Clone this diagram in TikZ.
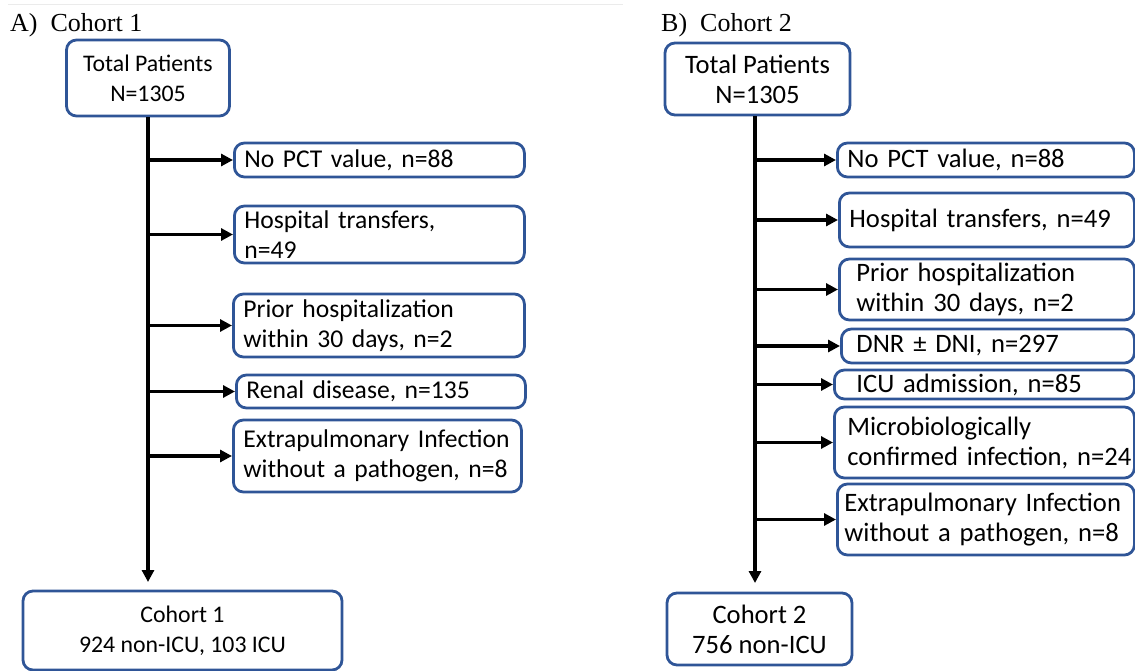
\documentclass[tikz,border=0pt]{standalone}
\usepackage{fontspec}
\setmainfont{Liberation Serif}
\newfontfamily\calib{Carlito}
\usetikzlibrary{arrows.meta}
\definecolor{boxblue}{RGB}{47,85,151}

\begin{document}
\begin{tikzpicture}[>={Triangle[length=12pt,width=12pt]}, x=1pt, y=-1pt]
	\tikzstyle{blk}=[draw=boxblue, line width=2.8pt, rounded corners=10pt, inner ysep=1pt]
	\tikzstyle{mid}=[blk, align=center]
	\tikzstyle{excl}=[blk, anchor=west, align=left, inner xsep=10pt]
	\tikzstyle{fa}=[font=\calib\fontsize{25.6}{30}\selectfont]
	\tikzstyle{fat}=[font=\calib\fontsize{23.8}{30}\selectfont]
	\tikzstyle{fb}=[font=\calib\fontsize{26.6}{30}\selectfont]
	\tikzstyle{head}=[anchor=base west, inner sep=0pt, font=\fontsize{26}{30}\selectfont]
	\tikzstyle{arr}=[->, line width=3.2pt]
	\useasboundingbox (0,0) rectangle (1135,671);
	\draw[black!8, line width=1pt] (8,5) -- (623,5);
	% A) cohort 1
	\node[head] (headA) at (10,32) {A)\ \ Cohort 1};
	\node[mid, fat, minimum width=163pt, minimum height=76pt] (totA) at (148,78) {Total Patients\\N=1305};
	\node[excl, fa, text width=270pt, minimum height=34pt] (pctA) at (233,160) {No PCT value, n=88};
	\node[excl, fa, text width=270pt, minimum height=57pt] (hospA) at (233,234.5) {Hospital transfers,\\n=49};
	\node[excl, fa, text width=271pt, minimum height=63pt] (priorA) at (232,325.5) {Prior hospitalization\\within 30 days, n=2};
	\node[excl, fa, text width=269pt, minimum height=33pt] (renalA) at (235,391.5) {Renal disease, n=135};
	\node[excl, fa, text width=268pt, minimum height=72pt] (extraA) at (232,456) {Extrapulmonary Infection\\without a pathogen, n=8};
	\node[mid, fat, minimum width=319pt, minimum height=79pt] (cohA) at (182.5,630.5) {Cohort 1\\924 non-ICU, 103 ICU};
	\coordinate (endA) at (148,582);
	\draw[arr] (totA.south) -- (endA);
	\foreach \b in {pctA,hospA,priorA,renalA,extraA}
		\draw[arr] (endA |- \b.west) -- (\b.west);
	% B) cohort 2
	\node[head] (headB) at (661,32) {B)\ \ Cohort 2};
	\node[mid, fb, minimum width=185pt, minimum height=72pt] (totB) at (757.5,79) {Total Patients\\N=1305};
	\node[excl, fb, text width=277pt, minimum height=34pt] (pctB) at (836,160) {No PCT value, n=88};
	\node[excl, fb, text width=275pt, minimum height=54pt] (hospB) at (838,220) {Hospital transfers, n=49};
	\node[excl, fb, inner xsep=17pt, text width=261pt, minimum height=61pt] (priorB) at (838,289.5) {Prior hospitalization\\within 30 days, n=2};
	\node[excl, fb, inner xsep=15pt, text width=263pt, minimum height=34pt] (dnrB) at (840,346) {DNR ± DNI, n=297};
	\node[excl, fb, inner xsep=22pt, text width=256pt, minimum height=29pt] (icuB) at (833,384.5) {ICU admission, n=85};
	\node[excl, fb, inner xsep=13pt, text width=274pt, minimum height=71pt] (microB) at (833,442.5) {Microbiologically\\\mbox{confirmed infection, n=24}};
	\node[excl, fb, inner xsep=7pt, text width=283pt, minimum height=71pt] (extraB) at (836,519.5) {Extrapulmonary Infection\\without a pathogen, n=8};
	\node[mid, fb, minimum width=185pt, minimum height=72pt] (cohB) at (759.5,629) {Cohort 2\\756 non-ICU};
	\coordinate (endB) at (755,583);
	\draw[arr] (endB |- totB.south) -- (endB);
	\foreach \b in {pctB,hospB,priorB,dnrB,icuB,microB,extraB}
		\draw[arr] (endB |- \b.west) -- (\b.west);
\end{tikzpicture}
\end{document}
